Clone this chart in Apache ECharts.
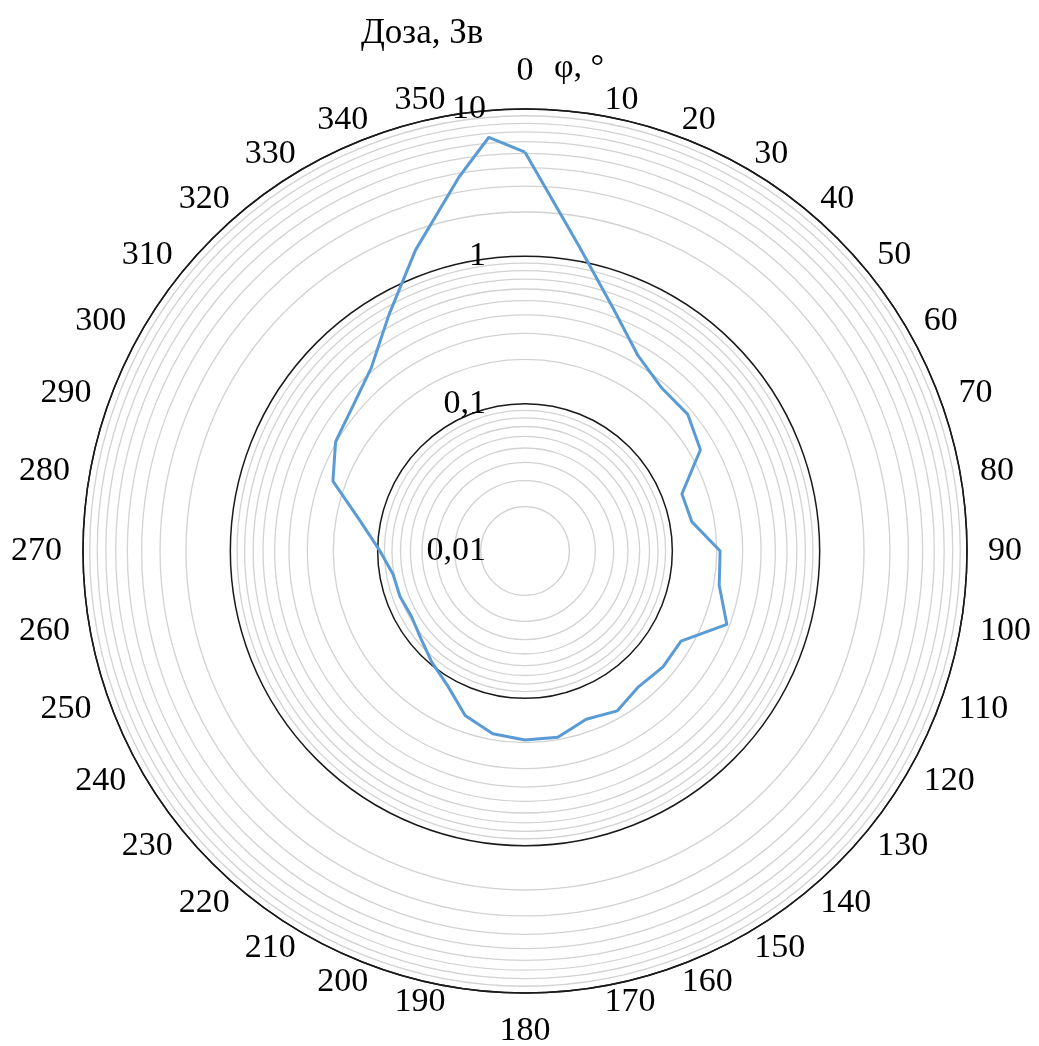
<!DOCTYPE html>
<html>
<head>
<meta charset="utf-8">
<script src="https://cdn.jsdelivr.net/npm/echarts@6/dist/echarts.min.js"></script>
<style>
  html, body { margin: 0; padding: 0; background: #fff; }
  #chart { width: 1039px; height: 1046px; }
</style>
</head>
<body>
<div id="chart"></div>
<script>
// Direction angle φ, degrees (0 at the top, clockwise)
const angles = [0, 10, 20, 30, 40, 50, 60, 70, 80, 90, 100, 110, 120, 130, 140, 150, 160, 170,
  180, 190, 200, 210, 220, 230, 240, 250, 260, 270, 280, 290, 300, 310, 320, 330, 340, 350, 355];
// Dose, Sv, at each direction
const doses = [5.09, 1.27, 0.565, 0.341, 0.278, 0.277, 0.237, 0.136, 0.141, 0.211, 0.218, 0.287,
  0.167, 0.167, 0.159, 0.179, 0.164, 0.192, 0.192, 0.182, 0.154, 0.113, 0.0965, 0.0838, 0.0775,
  0.080, 0.0812, 0.0965, 0.135, 0.244, 0.305, 0.336, 0.42, 0.706, 1.49, 3.78, 6.59];
// Angle tick labels around the rim
const angleTicks = [0, 10, 20, 30, 40, 50, 60, 70, 80, 90, 100, 110, 120, 130, 140, 150, 160, 170,
  180, 190, 200, 210, 220, 230, 240, 250, 260, 270, 280, 290, 300, 310, 320, 330, 340, 350];
// Radial scale range (log)
const radiusMin = 0.01;
const radiusMax = 10;
const radiusTitle = 'Доза, Зв';
const angleTitle = 'φ, °';

const serif = '"Liberation Serif", "Times New Roman", serif';
const CENTER = [525, 551];
const RADIUS = 442;
const LABEL_RADIUS = 463;   // px from the centre where rim labels are anchored
const LABEL_PULL = 5;       // side labels sit a little closer near the top and bottom

// closed polygon: points in order, then back to the start at 360°
const points = angles.map((a, i) => [doses[i], a]);
points.push([doses[0], 360]);

// rim labels sit just outside the outer ring; map the pixel radius onto the log scale
const pxToValue = px => radiusMin * Math.pow(radiusMax / radiusMin, px / RADIUS);
const rimLabels = angleTicks.map(a => {
  let align = 'left', vAlign = 'middle';
  let px = LABEL_RADIUS - LABEL_PULL * Math.abs(Math.cos(a * Math.PI / 180));
  if (a === 0) { align = 'center'; vAlign = 'bottom'; px = LABEL_RADIUS; }
  else if (a === 180) { align = 'center'; vAlign = 'top'; px = LABEL_RADIUS; }
  else if (a > 180) { align = 'right'; }
  return {
    value: [pxToValue(px), a],
    label: { align: align, verticalAlign: vAlign }
  };
});

const chart = echarts.init(document.getElementById('chart'), null, { renderer: 'canvas' });
chart.setOption({
  backgroundColor: '#fff',
  animation: false,
  title: [
    { text: radiusTitle, left: 356, top: 11,
      textStyle: { fontFamily: serif, fontSize: 35, fontWeight: 'normal', color: '#000' } },
    { text: angleTitle, left: 549, top: 46,
      textStyle: { fontFamily: serif, fontSize: 34, fontWeight: 'normal', color: '#000' } }
  ],
  polar: { center: CENTER, radius: RADIUS },
  angleAxis: {
    type: 'value', min: 0, max: 360, interval: 10,
    startAngle: 90, clockwise: true,
    axisLine: { show: true, lineStyle: { color: '#1a1a1a', width: 1.5 } },
    axisTick: { show: false },
    splitLine: { show: false },
    axisLabel: { show: false }
  },
  radiusAxis: {
    type: 'log', logBase: 10, min: radiusMin, max: radiusMax,
    axisLine: { show: false },
    axisTick: { show: false },
    axisLabel: {
      show: true, margin: 39, padding: [10, 0, 0, 0],
      fontFamily: serif, fontSize: 34, color: '#000',
      formatter: v => String(v).replace('.', ',')
    },
    splitLine: { show: true, lineStyle: { color: '#1a1a1a', width: 1.5 } },
    minorTick: { show: false, splitNumber: 9 },
    minorSplitLine: { show: true, lineStyle: { color: '#d2d2d2', width: 1.3 } }
  },
  series: [
    {
      type: 'line',
      coordinateSystem: 'polar',
      data: points,
      symbol: 'none',
      lineStyle: { color: '#5b9bd5', width: 3 },
      z: 5
    },
    {
      // angle tick labels
      type: 'scatter',
      coordinateSystem: 'polar',
      data: rimLabels,
      symbolSize: 1,
      clip: false,
      silent: true,
      itemStyle: { color: 'rgba(0,0,0,0)', opacity: 1 },
      label: {
        show: true, position: 'inside', opacity: 1,
        fontFamily: serif, fontSize: 34, color: '#000',
        textBorderWidth: 0,
        formatter: p => String(p.value[1])
      },
      z: 6
    }
  ]
});
</script>
</body>
</html>
